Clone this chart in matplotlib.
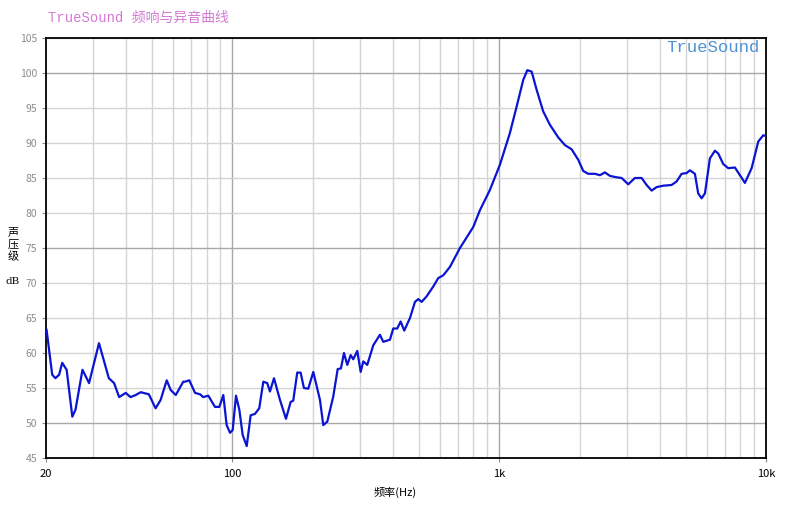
import numpy as np
import matplotlib.pyplot as plt
from matplotlib.ticker import FixedLocator, NullFormatter

plt.rcParams['font.family'] = ['Noto Sans CJK SC', 'DejaVu Sans']

# frequency response
freq = [20.1, 21.1, 21.7, 22.4, 23.0, 23.9, 25.1, 25.8, 27.4, 29.0,
        31.6, 34.4, 36.0, 37.6, 39.8, 41.5, 43.4, 45.3, 48.6, 51.5,
        53.8, 56.7, 58.7, 61.3, 65.4, 66.4, 68.9, 72.4, 75.6, 77.7,
        81.2, 86.0, 89.3, 92.4, 95.1, 97.9, 100.2, 103.1, 106.1, 109.2,
        113.1, 117.0, 121.4, 126.0, 130.5, 135.0, 138.2, 143.1, 150.7, 158.7,
        165.2, 169.0, 174.9, 180.1, 185.3, 192.4, 200.9, 212.8, 219.0, 226.7,
        238.7, 248.0, 255.1, 261.8, 269.4, 277.4, 283.7, 293.7, 302.4, 309.3,
        320.1, 337.1, 357.1, 367.5, 389.3, 400.6, 414.7, 427.0, 440.5, 462.8,
        483.2, 497.1, 512.0, 534.5, 565.9, 590.8, 616.9, 653.6, 712.5, 799.1,
        846.6, 922.8, 1006, 1096, 1162, 1230, 1274, 1323, 1381, 1462,
        1549, 1664, 1763, 1868, 1978, 2065, 2156, 2284, 2385, 2490,
        2600, 2755, 2877, 3045, 3226, 3418, 3569, 3727, 3891, 4119,
        4427, 4623, 4827, 5040, 5185, 5414, 5570, 5736, 5903, 6163,
        6435, 6621, 6913, 7218, 7647, 7985, 8337, 8833, 9351, 9763,
        10000]
spl = [63.3, 56.9, 56.4, 56.9, 58.6, 57.6, 50.9, 51.9, 57.6, 55.7,
       61.4, 56.4, 55.7, 53.7, 54.3, 53.7, 54.0, 54.4, 54.1, 52.1,
       53.3, 56.1, 54.7, 54.0, 55.9, 55.9, 56.1, 54.3, 54.1, 53.7,
       53.9, 52.3, 52.3, 54.0, 49.7, 48.6, 49.0, 53.9, 51.9, 48.3,
       46.7, 51.1, 51.3, 52.1, 55.9, 55.7, 54.5, 56.4, 53.3, 50.6,
       53.0, 53.2, 57.2, 57.2, 55.0, 54.9, 57.3, 53.3, 49.7, 50.2,
       53.8, 57.7, 57.8, 60.0, 58.3, 59.7, 59.1, 60.3, 57.3, 58.8,
       58.3, 61.1, 62.6, 61.6, 61.9, 63.5, 63.5, 64.5, 63.2, 65.0,
       67.3, 67.7, 67.3, 68.1, 69.5, 70.7, 71.1, 72.3, 75.0, 78.0,
       80.4, 83.3, 86.9, 91.4, 95.2, 99.0, 100.4, 100.2, 97.6, 94.5,
       92.6, 90.8, 89.7, 89.1, 87.6, 86.0, 85.6, 85.6, 85.4, 85.8,
       85.3, 85.1, 85.0, 84.1, 85.0, 85.0, 84.0, 83.2, 83.7, 83.9,
       84.0, 84.5, 85.6, 85.7, 86.1, 85.6, 82.8, 82.1, 82.8, 87.8,
       88.9, 88.5, 87.0, 86.4, 86.5, 85.4, 84.3, 86.4, 90.2, 91.1,
       91.0]

xticks = [20, 100, 1000, 10000]
xticklabels = ['20', '100', '1k', '10k']
yticks = list(range(45, 106, 5))

fig = plt.figure(figsize=(8.03, 5.07), dpi=100)
ax = fig.add_axes([46/803, 49/507, 720/803, 420/507])

ax.set_xscale('log')
ax.set_xlim(20, 10000)
ax.set_ylim(45, 105)

minor = [f for d in (10, 100, 1000) for f in np.arange(2, 10) * d if 20 < f < 10000 and f not in (100, 1000)]
ax.xaxis.set_major_locator(FixedLocator(xticks))
ax.set_xticklabels(xticklabels)
ax.xaxis.set_minor_locator(FixedLocator(minor))
ax.xaxis.set_minor_formatter(NullFormatter())
ax.set_yticks(yticks)

for f in minor:
    ax.axvline(f, color='#d4d4d4', lw=1, zorder=0)
for f in (100, 1000):
    ax.axvline(f, color='#a8a8a8', lw=1, zorder=0)
for v in yticks:
    c = '#a8a8a8' if v in (50, 75, 100) else '#d4d4d4'
    ax.axhline(v, color=c, lw=1, zorder=0)

ax.plot(freq, spl, color='#0a14d2', lw=1.6, zorder=3)

for s in ax.spines.values():
    s.set_color('black')
    s.set_linewidth(1.3)

ax.tick_params(axis='y', which='both', colors='#8c8c8c', labelsize=7.5, length=3, width=0.8)
ax.tick_params(axis='y', labelcolor='#8c8c8c')
ax.tick_params(axis='x', which='major', labelsize=8, labelcolor='black', color='#8c8c8c', length=3, width=0.8, pad=5)
ax.tick_params(axis='x', which='minor', length=0)

fig.text(48/803, 1 - 18/507, 'TrueSound 频响与异音曲线', color='#d47ad4', fontsize=10,
         family=['Liberation Mono', 'Noto Sans CJK SC'], va='center', ha='left')
ax.text(0.992, (458 - 48) / 420, 'TrueSound', transform=ax.transAxes, color='#4f94d4', fontsize=12.5,
        family=['Liberation Mono'], ha='right', va='center')

for ch, yy in zip('声压级', (232, 245, 257)):
    fig.text(13/803, 1 - yy/507, ch, fontsize=8, ha='center', va='center')
fig.text(13/803, 1 - 281/507, 'dB', fontsize=7.5, ha='center', va='center', family=['DejaVu Serif'])
fig.text(395/803, 1 - 492/507, '频率(Hz)', fontsize=8, ha='center', va='center')

fig.savefig('out.png', dpi=100)
